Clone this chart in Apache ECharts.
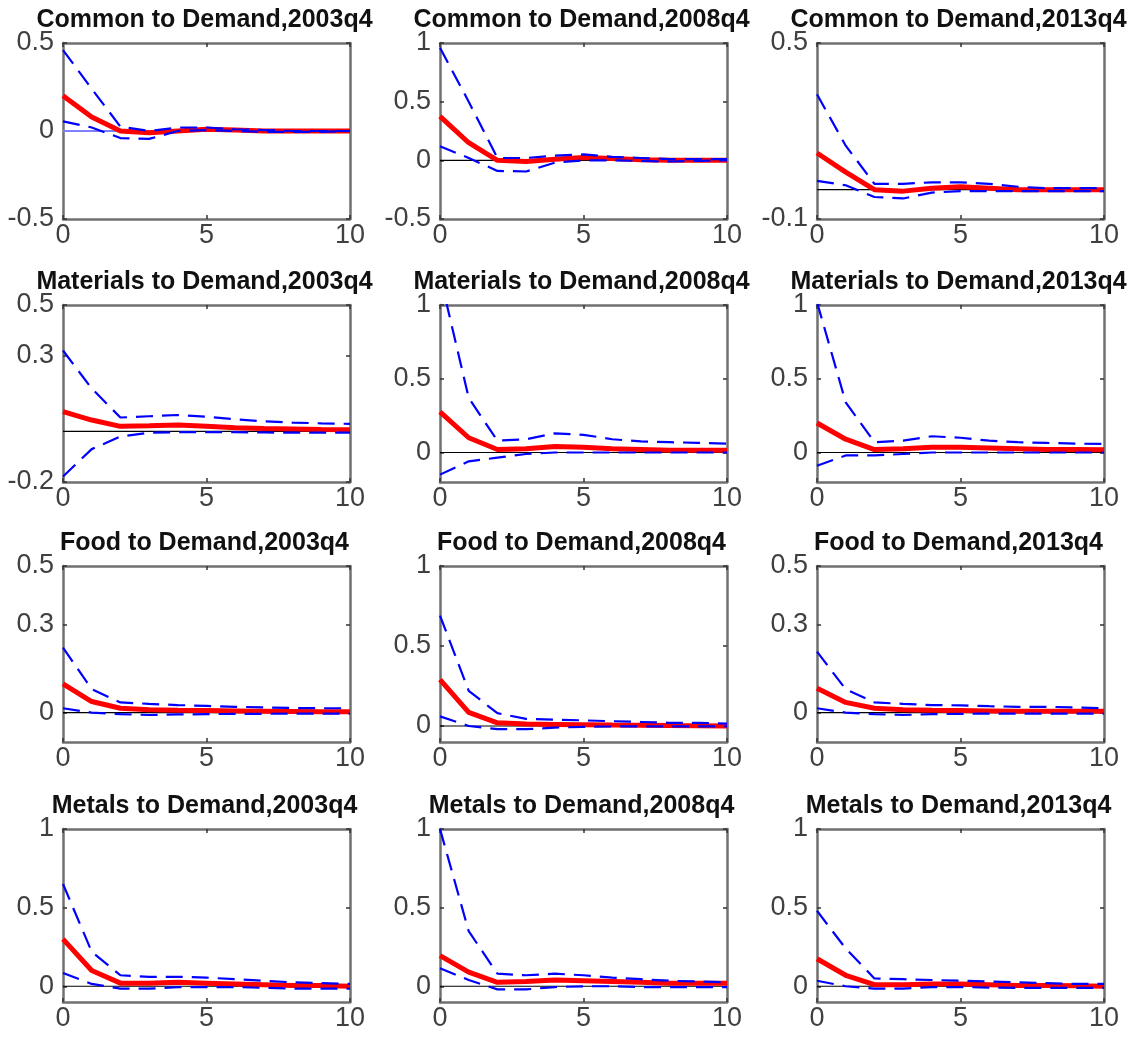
<!DOCTYPE html>
<html><head><meta charset="utf-8">
<script src="https://cdn.jsdelivr.net/npm/echarts@6/dist/echarts.min.js"></script>
<style>html,body{margin:0;padding:0;background:#fff}#c{width:1137px;height:1043px}</style>
</head><body><div id="c"></div>
<script>
// ---------- DATA ----------
const horizon = [0,1,2,3,4,5,6,7,8,9,10];
const xTickValues = [0,5,10];

const panelTitles = [
  'Common to Demand,2003q4','Common to Demand,2008q4','Common to Demand,2013q4',
  'Materials to Demand,2003q4','Materials to Demand,2008q4','Materials to Demand,2013q4',
  'Food to Demand,2003q4','Food to Demand,2008q4','Food to Demand,2013q4',
  'Metals to Demand,2003q4','Metals to Demand,2008q4','Metals to Demand,2013q4'
];
const yMinValues = [-0.5,-0.5,-0.1, -0.2,-0.2,-0.2, -0.1,-0.1,-0.1, -0.1,-0.1,-0.1];
const yMaxValues = [0.5,1,0.5, 0.5,1,1, 0.5,1,0.5, 1,1,1];
const yTickValues = [
  [-0.5,0,0.5],[-0.5,0,0.5,1],[-0.1,0.5],
  [-0.2,0.3,0.5],[0,0.5,1],[0,0.5,1],
  [0,0.3,0.5],[0,0.5,1],[0,0.3,0.5],
  [0,0.5,1],[0,0.5,1],[0,0.5,1]
];

// Common
const common2003Mid = [0.20,0.08,0.0,-0.01,0.0,0.01,0.005,0.0,0.0,0.0,0.0];
const common2003Up  = [0.46,0.24,0.025,0.0,0.02,0.02,0.01,0.005,0.0,0.0,0.0];
const common2003Lo  = [0.055,0.02,-0.04,-0.045,0.0,0.005,0.0,-0.005,-0.005,-0.005,0.0];
const common2008Mid = [0.375,0.15,0.0,-0.01,0.01,0.025,0.015,0.005,0.0,0.0,0.0];
const common2008Up  = [0.96,0.5,0.02,0.02,0.04,0.05,0.03,0.02,0.01,0.01,0.01];
const common2008Lo  = [0.12,0.02,-0.09,-0.095,-0.02,0.0,0.0,-0.005,-0.01,-0.005,0.0];
const common2013Mid = [0.125,0.06,0.0,-0.005,0.005,0.01,0.005,0.0,0.0,0.0,0.0];
const common2013Up  = [0.325,0.15,0.02,0.02,0.025,0.025,0.02,0.01,0.005,0.005,0.005];
const common2013Lo  = [0.03,0.015,-0.025,-0.03,-0.01,-0.005,-0.005,-0.005,-0.005,-0.005,-0.005];
// Materials
const materials2003Mid = [0.078,0.045,0.02,0.022,0.025,0.02,0.015,0.012,0.01,0.008,0.007];
const materials2003Up  = [0.32,0.17,0.055,0.06,0.065,0.058,0.048,0.04,0.035,0.032,0.03];
const materials2003Lo  = [-0.178,-0.07,-0.02,-0.005,-0.003,-0.003,-0.003,-0.004,-0.005,-0.005,-0.005];
const materials2008Mid = [0.275,0.1,0.02,0.025,0.04,0.035,0.025,0.02,0.015,0.015,0.015];
const materials2008Up  = [1.2,0.37,0.08,0.09,0.13,0.12,0.09,0.075,0.07,0.065,0.06];
const materials2008Lo  = [-0.15,-0.06,-0.035,-0.01,0.0,0.0,0.0,0.0,0.0,0.0,0.0];
const materials2013Mid = [0.2,0.09,0.02,0.025,0.035,0.035,0.03,0.025,0.02,0.02,0.018];
const materials2013Up  = [1.02,0.34,0.07,0.08,0.11,0.1,0.08,0.07,0.065,0.06,0.058];
const materials2013Lo  = [-0.09,-0.02,-0.02,-0.01,0.0,0.0,0.0,0.0,0.0,0.0,0.0];
// Food
const food2003Mid = [0.098,0.038,0.015,0.01,0.008,0.007,0.006,0.005,0.004,0.003,0.003];
const food2003Up  = [0.222,0.08,0.035,0.03,0.026,0.023,0.02,0.018,0.016,0.015,0.015];
const food2003Lo  = [0.015,0.0,-0.005,-0.008,-0.006,-0.005,-0.004,-0.004,-0.003,-0.003,-0.003];
const food2008Mid = [0.29,0.085,0.02,0.012,0.01,0.008,0.006,0.005,0.003,0.002,0.0];
const food2008Up  = [0.69,0.22,0.08,0.045,0.04,0.035,0.03,0.025,0.02,0.02,0.015];
const food2008Lo  = [0.06,0.0,-0.02,-0.02,-0.01,-0.005,-0.003,-0.002,-0.002,-0.002,-0.002];
const food2013Mid = [0.083,0.035,0.015,0.01,0.008,0.007,0.006,0.005,0.005,0.005,0.005];
const food2013Up  = [0.208,0.08,0.035,0.03,0.026,0.025,0.022,0.02,0.02,0.018,0.015];
const food2013Lo  = [0.015,0.0,-0.005,-0.008,-0.005,-0.004,-0.003,-0.003,-0.003,-0.003,-0.003];
// Metals
const metals2003Mid = [0.3,0.1,0.02,0.02,0.025,0.02,0.015,0.01,0.005,0.005,0.0];
const metals2003Up  = [0.65,0.22,0.07,0.06,0.06,0.055,0.045,0.035,0.025,0.02,0.015];
const metals2003Lo  = [0.085,0.015,-0.015,-0.015,-0.005,-0.005,-0.005,-0.01,-0.015,-0.015,-0.015];
const metals2008Mid = [0.195,0.09,0.025,0.03,0.04,0.035,0.03,0.025,0.02,0.02,0.02];
const metals2008Up  = [1.0,0.35,0.08,0.07,0.08,0.07,0.055,0.045,0.035,0.03,0.025];
const metals2008Lo  = [0.115,0.04,-0.02,-0.02,-0.005,0.0,0.0,-0.005,-0.005,-0.005,-0.005];
const metals2013Mid = [0.175,0.07,0.01,0.01,0.015,0.015,0.01,0.005,0.005,0.003,0.0];
const metals2013Up  = [0.48,0.24,0.05,0.045,0.04,0.035,0.03,0.025,0.02,0.015,0.015];
const metals2013Lo  = [0.035,0.0,-0.015,-0.015,-0.005,-0.005,-0.008,-0.01,-0.01,-0.01,-0.01];

const midSeries = [common2003Mid,common2008Mid,common2013Mid,materials2003Mid,materials2008Mid,materials2013Mid,food2003Mid,food2008Mid,food2013Mid,metals2003Mid,metals2008Mid,metals2013Mid];
const upSeries  = [common2003Up,common2008Up,common2013Up,materials2003Up,materials2008Up,materials2013Up,food2003Up,food2008Up,food2013Up,metals2003Up,metals2008Up,metals2013Up];
const loSeries  = [common2003Lo,common2008Lo,common2013Lo,materials2003Lo,materials2008Lo,materials2013Lo,food2003Lo,food2008Lo,food2013Lo,metals2003Lo,metals2008Lo,metals2013Lo];
const zeroLineX = [0,10];

// ---------- LAYOUT / STYLE ----------
const colLeft = [63,440,817];
const plotW = 287;
const rowTop = [43,305,566,829];
const rowH = [176,177,176,173];
const FONT = '"Liberation Sans", Arial, Helvetica, sans-serif';
const boxColor = '#707070';
const labelColor = '#404040';
const LABEL_SIZE = 27;

const grids = [], xAxes = [], yAxes = [], series = [], titles = [];
for (let i = 0; i < 12; i++) {
  const r = Math.floor(i/3), c = i%3;
  grids.push({left: colLeft[c], top: rowTop[r], width: plotW, height: rowH[r], containLabel: false});
  titles.push({
    text: panelTitles[i], left: colLeft[c] + plotW/2 - 2, top: rowTop[r] - 36, textAlign: 'center', padding: 0,
    textStyle: {fontFamily: FONT, fontWeight: 'bold', fontSize: 25, color: '#111', lineHeight: 27}
  });
  const axLine = {show: true, onZero: false, lineStyle: {color: boxColor, width: 2.5}};
  const tick = (vals) => ({show: true, inside: true, length: 4, customValues: vals, lineStyle: {color: '#333', width: 1.5}});
  // bottom x
  xAxes.push({gridIndex: i, type: 'value', position: 'bottom', min: 0, max: 10,
    axisLine: axLine, axisTick: tick(xTickValues), splitLine: {show: false},
    axisLabel: {show: true, customValues: xTickValues, margin: 3, fontFamily: FONT, fontSize: LABEL_SIZE, color: labelColor}});
  // top x
  xAxes.push({gridIndex: i, type: 'value', position: 'top', min: 0, max: 10,
    axisLine: axLine, axisTick: tick(xTickValues), splitLine: {show: false}, axisLabel: {show: false}});
  // left y
  yAxes.push({gridIndex: i, type: 'value', position: 'left', min: yMinValues[i], max: yMaxValues[i],
    axisLine: axLine, axisTick: tick(yTickValues[i]), splitLine: {show: false},
    axisLabel: {show: true, customValues: yTickValues[i], margin: 9, fontFamily: FONT, fontSize: LABEL_SIZE, color: labelColor}});
  // right y
  yAxes.push({gridIndex: i, type: 'value', position: 'right', min: yMinValues[i], max: yMaxValues[i],
    axisLine: axLine, axisTick: tick(yTickValues[i]), splitLine: {show: false}, axisLabel: {show: false}});

  const xi = i*2, yi = i*2;
  series.push({type: 'line', xAxisIndex: xi, yAxisIndex: yi, symbol: 'none', silent: true, clip: true,
    data: zeroLineX.map(x => [x, 0]),
    lineStyle: i === 0 ? {color: '#7f7fff', width: 2} : {color: '#000', width: 1.2}, z: 1});
  series.push({type: 'line', xAxisIndex: xi, yAxisIndex: yi, symbol: 'none', silent: true, clip: true,
    data: horizon.map((h, k) => [h, midSeries[i][k]]),
    lineStyle: {color: '#ff0000', width: 5}, z: 2});
  series.push({type: 'line', xAxisIndex: xi, yAxisIndex: yi, symbol: 'none', silent: true, clip: true,
    data: horizon.map((h, k) => [h, upSeries[i][k]]),
    lineStyle: {color: '#0000ff', width: 2.2, type: [17, 9]}, z: 3});
  series.push({type: 'line', xAxisIndex: xi, yAxisIndex: yi, symbol: 'none', silent: true, clip: true,
    data: horizon.map((h, k) => [h, loSeries[i][k]]),
    lineStyle: {color: '#0000ff', width: 2.2, type: [17, 9]}, z: 3});
}

const chart = echarts.init(document.getElementById('c'), null, {renderer: 'canvas'});
chart.setOption({
  backgroundColor: '#ffffff',
  animation: false,
  title: titles,
  grid: grids,
  xAxis: xAxes,
  yAxis: yAxes,
  series: series
});
</script>
</body></html>
